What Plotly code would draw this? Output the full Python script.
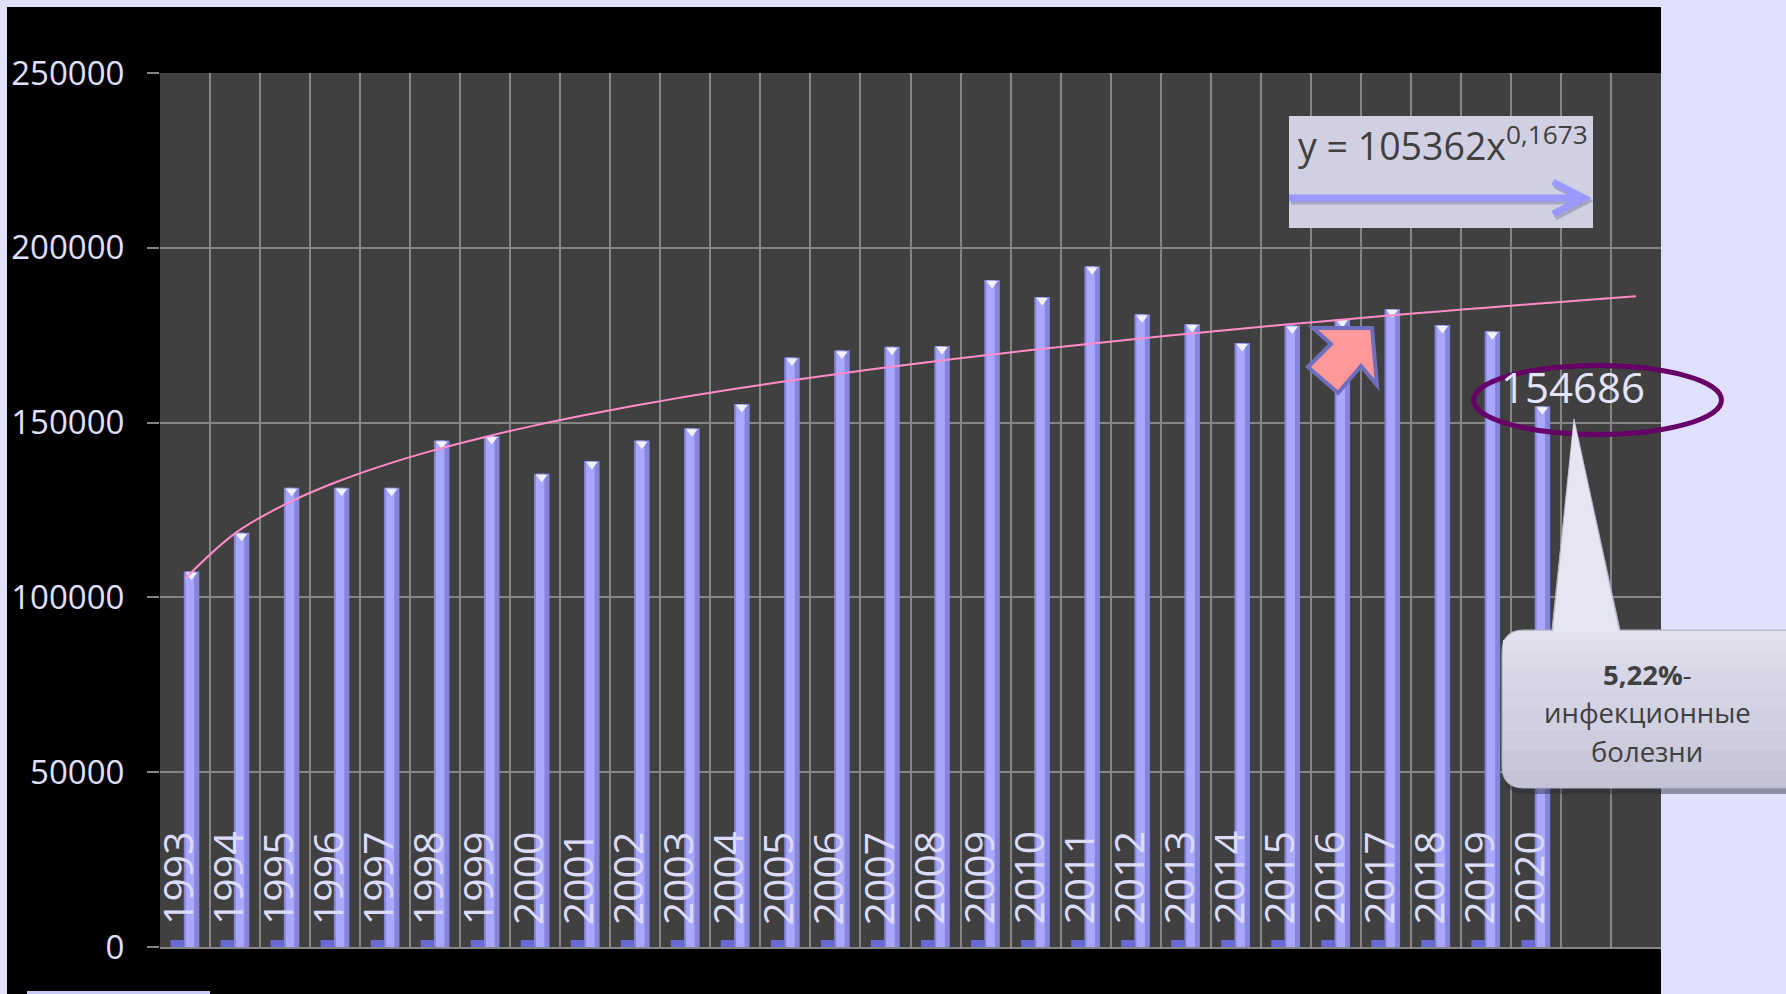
import plotly.graph_objects as go

# ---- data -------------------------------------------------------------
years = list(range(1993, 2021))
cases = [107400, 118500, 131400, 131400, 131400, 144900, 146200, 135400, 139000, 144900,
         148400, 155300, 168600, 170600, 171700, 171900, 190800, 185900, 194700, 181000,
         178200, 172800, 177800, 179600, 182500, 177900, 176150, 154686]
positions = list(range(1, len(years) + 1))
n_slots = 30                      # two empty category slots after the last year

# power trend  y = a * x^b  (x = ordinal position), forecast 2 periods forward
trend_a = 105362
trend_b = 0.1673
trend_x = list(range(1, n_slots + 1))
trend_y = [trend_a * x ** trend_b for x in trend_x]

y_ticks = [0, 50000, 100000, 150000, 200000, 250000]
highlight_year = 2020
callout_lines = ["<b>5,22%</b>-", "инфекционные", "болезни"]

# ---- canvas geometry (pixels) -----------------------------------------
W, H = 1786, 994
PL, PR, PT, PB = 160, 1661, 73, 947
Y_MAX = 250000
FONT = "Open Sans"


def fx(v):
    return (v - PL) / (PR - PL)


def fy(v):
    return (PB - v) / (PB - PT)


def path(points, close=True):
    s = "M " + " L ".join(f"{fx(x):.5f},{fy(y):.5f}" for x, y in points)
    return s + (" Z" if close else "")


def rounded(l, t, r, b, rad, top_only=False, pointer=None):
    seg = [f"M {fx(l + rad):.5f},{fy(t):.5f}"]
    if pointer:
        for (x, y) in pointer:
            seg.append(f"L {fx(x):.5f},{fy(y):.5f}")
    seg.append(f"L {fx(r - rad):.5f},{fy(t):.5f}")
    seg.append(f"Q {fx(r):.5f},{fy(t):.5f} {fx(r):.5f},{fy(t + rad):.5f}")
    if top_only:
        seg.append(f"L {fx(r):.5f},{fy(b):.5f}")
        seg.append(f"L {fx(l):.5f},{fy(b):.5f}")
    else:
        seg.append(f"L {fx(r):.5f},{fy(b - rad):.5f}")
        seg.append(f"Q {fx(r):.5f},{fy(b):.5f} {fx(r - rad):.5f},{fy(b):.5f}")
        seg.append(f"L {fx(l + rad):.5f},{fy(b):.5f}")
        seg.append(f"Q {fx(l):.5f},{fy(b):.5f} {fx(l):.5f},{fy(b - rad):.5f}")
    seg.append(f"L {fx(l):.5f},{fy(t + rad):.5f}")
    seg.append(f"Q {fx(l):.5f},{fy(t):.5f} {fx(l + rad):.5f},{fy(t):.5f} Z")
    return " ".join(seg)


units_per_px = Y_MAX / (PB - PT)

fig = go.Figure()

# year series: tiny stubs (value = the year itself)
fig.add_trace(go.Bar(x=positions, y=years, offset=-0.29, width=0.265,
                     marker=dict(color="#6A6AD4", line=dict(width=0)), hoverinfo="skip"))
# case counts: cylinder body + highlight strip
fig.add_trace(go.Bar(x=positions, y=cases, offset=-0.025, width=0.31,
                     marker=dict(color="#8585DC", line=dict(width=0))))
fig.add_trace(go.Bar(x=positions, y=cases, offset=0.015, width=0.17,
                     marker=dict(color="#A8A8FF", line=dict(width=0)), hoverinfo="skip"))
# top caps of the cylinders
fig.add_trace(go.Scatter(x=[p + 0.13 for p in positions],
                         y=[v - 3.5 * units_per_px for v in cases],
                         mode="markers",
                         marker=dict(symbol="triangle-down", size=10, color="#F2F2FF",
                                     line=dict(width=0)), hoverinfo="skip"))
# trend line
fig.add_trace(go.Scatter(x=trend_x, y=trend_y, mode="lines",
                         line=dict(color="#FF8CC8", width=2, shape="spline"),
                         hoverinfo="skip"))

shapes = []
# dark panel and plot area
shapes.append(dict(type="rect", xref="paper", yref="paper", layer="below",
                   x0=fx(7), x1=fx(PR), y0=fy(H + 5), y1=fy(7),
                   fillcolor="#000000", line=dict(width=0)))
shapes.append(dict(type="rect", xref="paper", yref="paper", layer="below",
                   x0=0, x1=1, y0=0, y1=1, fillcolor="#404040", line=dict(width=0)))
shapes.append(dict(type="rect", xref="paper", yref="paper", layer="below",
                   x0=fx(27), x1=fx(210), y0=fy(H + 2), y1=fy(991),
                   fillcolor="#C8C8F8", line=dict(width=0)))

# equation box with arrow
shapes.append(dict(type="rect", xref="paper", yref="paper",
                   x0=fx(1289), x1=fx(1593), y0=fy(228), y1=fy(116),
                   fillcolor="#D0D0E2", line=dict(width=0)))
for dx, dy, col in [(2, 3, "rgba(90,90,130,0.35)"), (0, 0, "#9999FF")]:
    shapes.append(dict(type="path", xref="paper", yref="paper",
                       path=path([(1289 + dx, 198 + dy), (1580 + dx, 198 + dy)], close=False),
                       line=dict(color=col, width=7)))
    shapes.append(dict(type="path", xref="paper", yref="paper",
                       path=path([(1553 + dx, 182 + dy), (1584 + dx, 198 + dy),
                                  (1553 + dx, 214 + dy)], close=False),
                       line=dict(color=col, width=7)))

# block arrow
shapes.append(dict(type="path", xref="paper", yref="paper",
                   path=path([(1313, 328), (1372, 328), (1377, 385), (1361, 366),
                              (1338, 393), (1308, 367), (1331, 344)]),
                   fillcolor="#FF9999", line=dict(color="#6E6EBE", width=4)))

# ellipse around the last value
shapes.append(dict(type="circle", xref="paper", yref="paper",
                   x0=fx(1473.5), x1=fx(1721.5), y0=fy(434.5), y1=fy(365.5),
                   line=dict(color="#660066", width=5)))

# callout with pointer
CL, CT, CR, CB, CRAD = 1502, 630, 1810, 788, 22
pointer = [(1552, CT), (1574, 419), (1620, CT)]
shapes.append(dict(type="path", xref="paper", yref="paper",
                   path=rounded(CL + 2, CT + 5, CR, CB + 6, CRAD),
                   fillcolor="rgba(40,40,50,0.45)", line=dict(width=0)))
shapes.append(dict(type="path", xref="paper", yref="paper",
                   path=rounded(CL, CT, CR, CB, CRAD, pointer=pointer),
                   fillcolor="#C4C4D6", line=dict(color="#B4B4C8", width=1)))
bands = [(770, "#C8C8D9"), (750, "#CCCCDD"), (730, "#D0D0E0"), (710, "#D3D3E3"),
         (690, "#D6D6E6"), (670, "#D9D9E8"), (652, "#DDDDEB"), (640, "#E2E2EF")]
for bottom, col in bands:
    shapes.append(dict(type="path", xref="paper", yref="paper",
                       path=rounded(CL + 1, CT + 1, CR, bottom, CRAD - 1, top_only=True),
                       fillcolor=col, line=dict(width=0)))
shapes.append(dict(type="path", xref="paper", yref="paper",
                   path=path([(1553, CT + 2), (1574, 420), (1619, CT + 2)]),
                   fillcolor="#E6E6F3", line=dict(width=0)))

annotations = []
for p, yr in zip(positions, years):
    annotations.append(dict(x=p, y=yr, xref="x", yref="y", text=str(yr), textangle=-90,
                            showarrow=False, xanchor="center", yanchor="bottom",
                            xshift=-8, yshift=13,
                            font=dict(family=FONT, size=41, color="#DCDCFA")))

hi_idx = years.index(highlight_year)
annotations.append(dict(x=positions[hi_idx], y=cases[hi_idx], xref="x", yref="y",
                        text=f"{cases[hi_idx]}", showarrow=False,
                        xanchor="center", yanchor="middle", xshift=37, yshift=20,
                        font=dict(family=FONT, size=42, color="#E4E4FF")))

annotations.append(dict(x=fx(1296), y=fy(172.5), xref="paper", yref="paper",
                        text=f"y = {trend_a}x<sup>{str(trend_b).replace('.', ',')}</sup>",
                        showarrow=False, xanchor="left", yanchor="bottom",
                        font=dict(family=FONT, size=37.5, color="#404040")))

for line_text, cy in zip(callout_lines, [674, 712, 751]):
    annotations.append(dict(x=fx(1647), y=fy(cy), xref="paper", yref="paper",
                            text=line_text, showarrow=False,
                            xanchor="center", yanchor="middle", align="center",
                            font=dict(family=FONT, size=27.5, color="#404040")))

fig.update_layout(
    template="none",
    width=W, height=H,
    margin=dict(l=PL, r=W - PR, t=PT, b=H - PB, pad=0),
    paper_bgcolor="#E0E0FF",
    plot_bgcolor="rgba(0,0,0,0)",
    barmode="overlay",
    showlegend=False,
    shapes=shapes,
    annotations=annotations,
    xaxis=dict(range=[0.5, n_slots + 0.5], tickvals=[k + 0.5 for k in range(n_slots + 1)],
               showticklabels=False, ticks="", showgrid=True, gridcolor="#858585",
               gridwidth=1.5, zeroline=False, showline=True, linecolor="#858585",
               linewidth=1.5, automargin=False, fixedrange=True),
    yaxis=dict(range=[0, Y_MAX], tickvals=y_ticks, ticktext=[str(v) for v in y_ticks],
               showgrid=True, gridcolor="#858585", gridwidth=1.5, zeroline=False,
               ticks="outside", ticklen=12, tickwidth=1.5, tickcolor="#858585",
               ticklabelstandoff=16, showline=False, automargin=False,
               tickfont=dict(family=FONT, size=33, color="#E0E0FF"), fixedrange=True),
)

fig.write_html("out.html")
